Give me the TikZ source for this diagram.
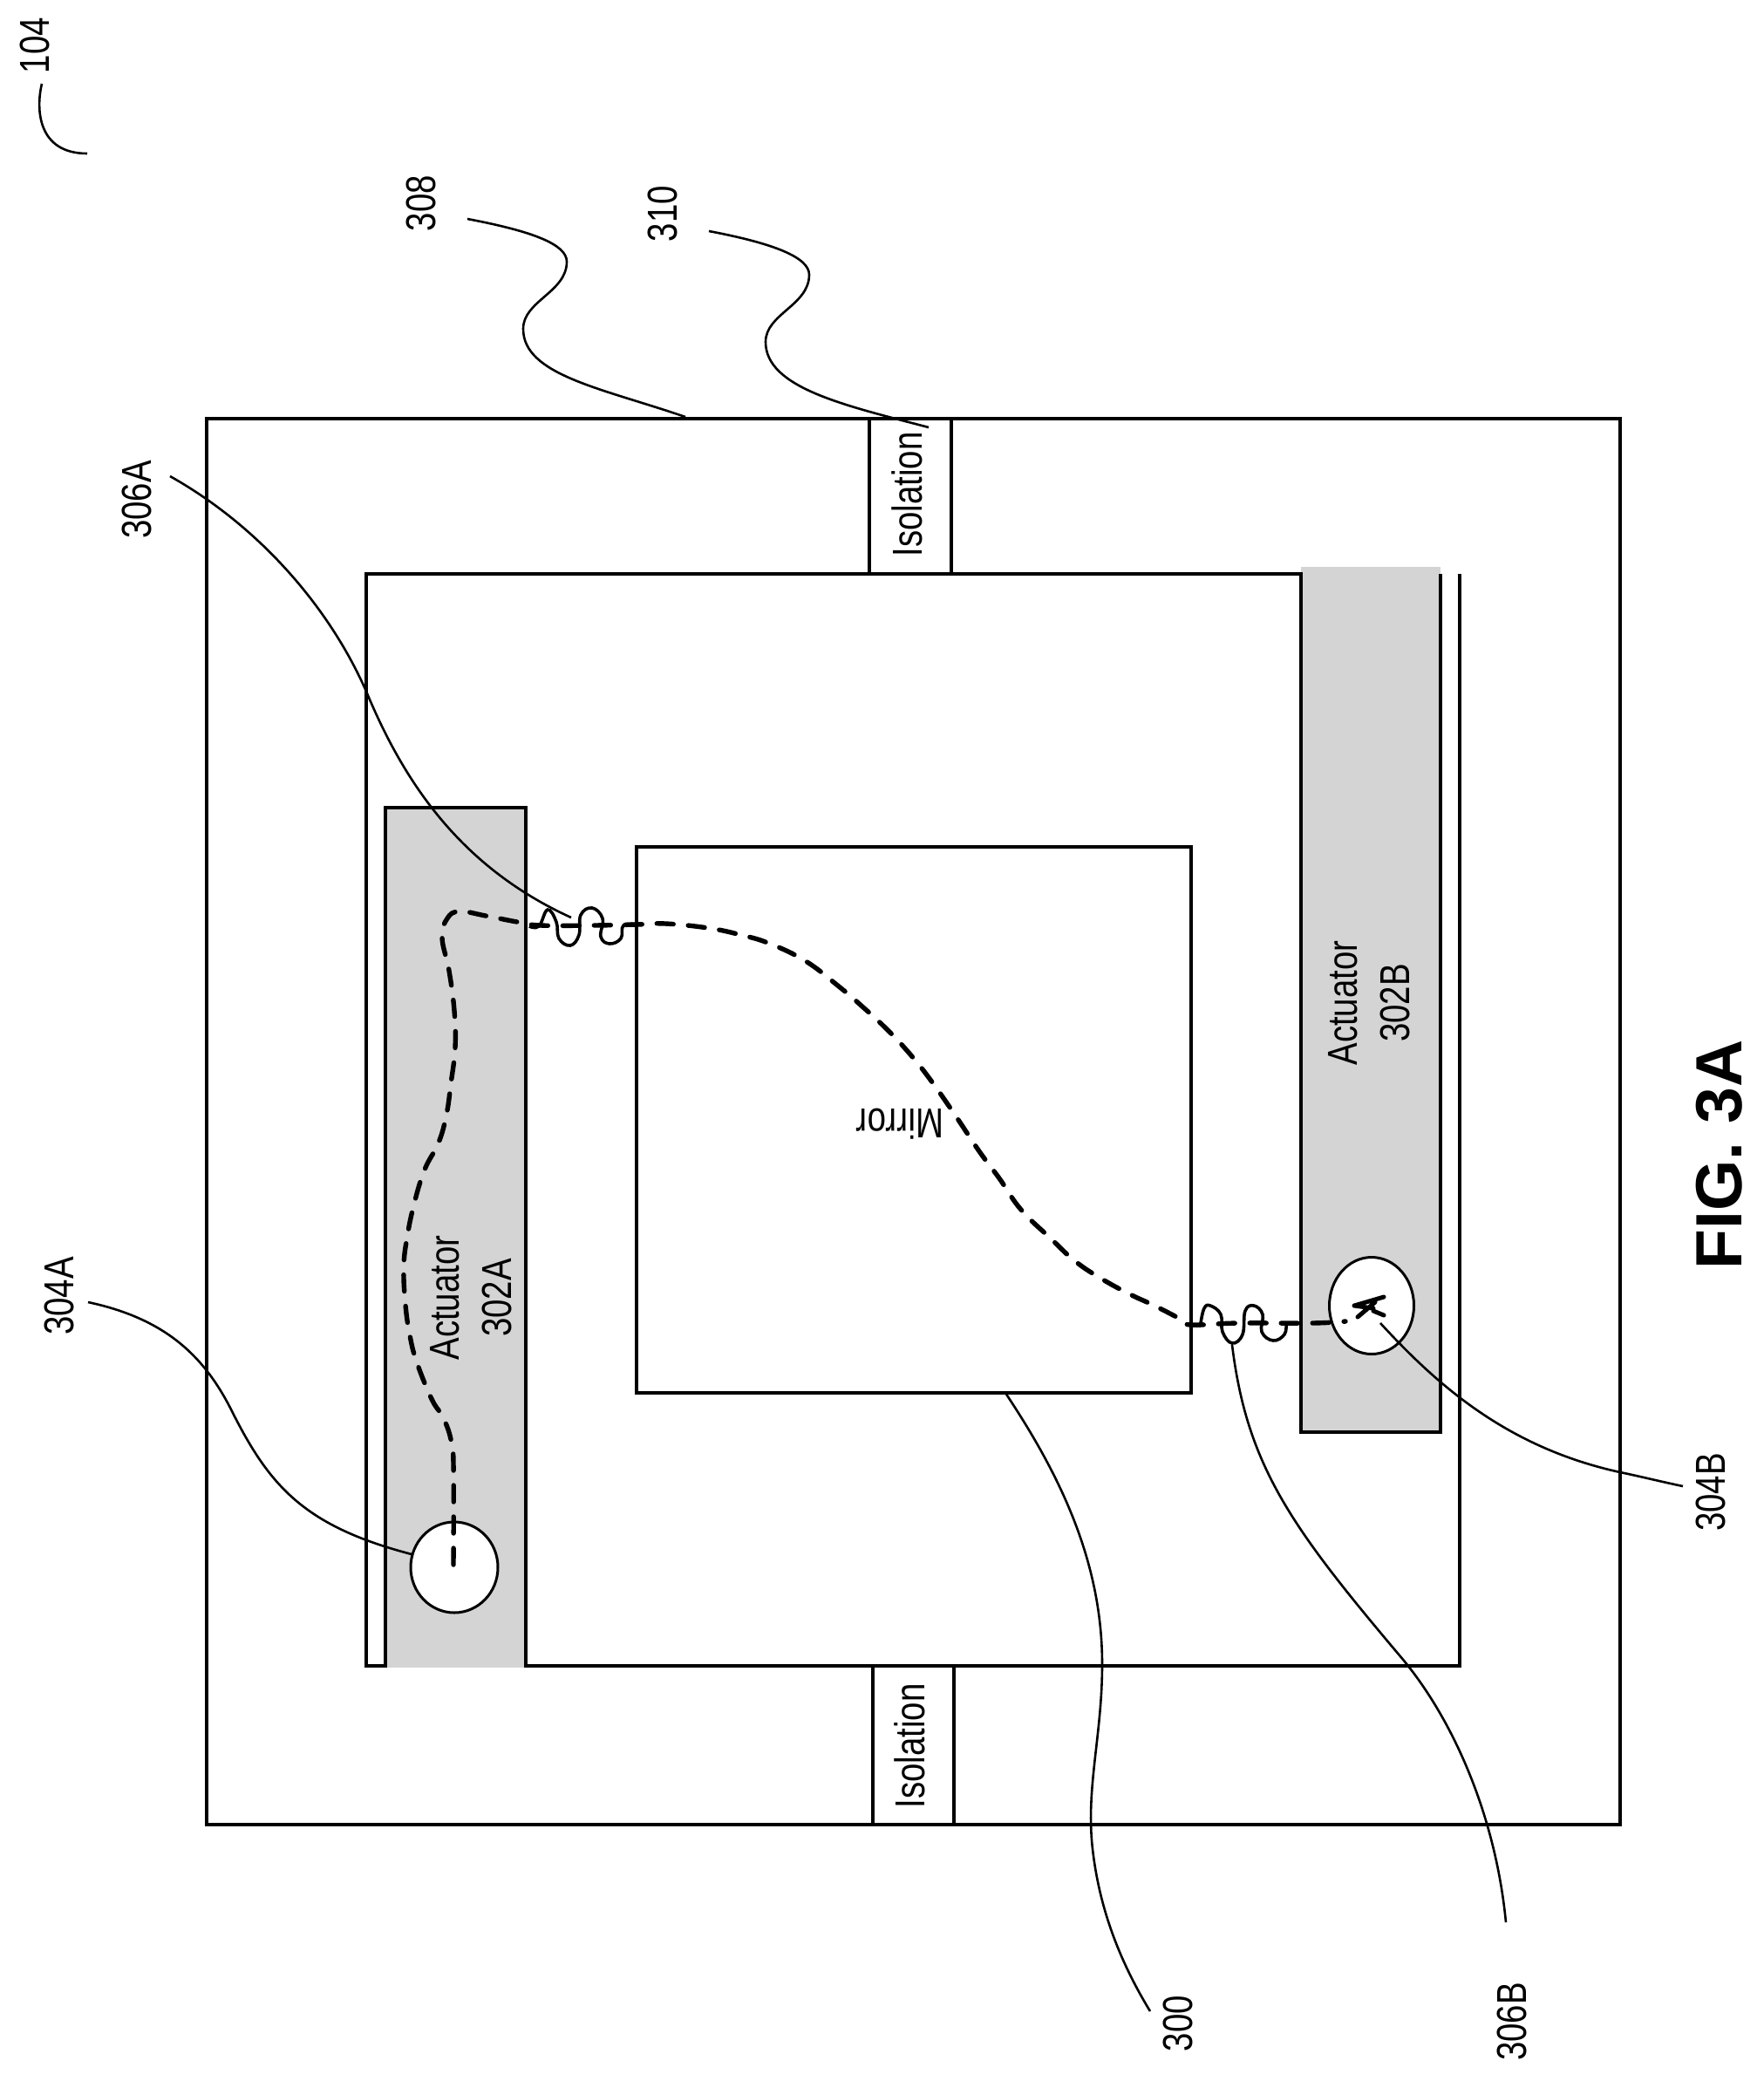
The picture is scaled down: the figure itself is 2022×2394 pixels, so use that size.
\documentclass[tikz,border=0pt]{standalone}
\usepackage{fontspec}
\usetikzlibrary{shapes.geometric}
\setmainfont{Liberation Sans}
\begin{document}
\begin{tikzpicture}[x=1pt,y=-1pt,
  body/.style={line width=3.5pt,black,line join=miter},
  leader/.style={line width=2.6pt,black},
  wire/.style={line width=5.4pt,black,line cap=round,dash pattern=on 19pt off 17pt},
  spring/.style={line width=3.6pt,black},
  actfill/.style={fill=black!17,draw=none},
  txt/.style={inner sep=0pt,font=\fontsize{48}{60}\selectfont,align=center,rotate=90,xscale=.8},
  hole/.style={draw=black,line width=3pt,fill=white}]
\useasboundingbox (0,0) rectangle (2022,2394);
\fill[white] (0,0) rectangle (2022,2394);
% actuators' shading
\fill[actfill] (442,926) rectangle (603,1912);
\fill[actfill] (1492,650) rectangle (1652,1642);
% package and isolation
\draw[body] (237,480) rectangle (1858,2092);
\draw[body] (997,480) rectangle (1091,658);
\draw[body] (1001,1910) rectangle (1094,2092);
% frame
\draw[body] (1652,658) -- (1652,1642) -- (1492,1642) -- (1492,658) -- (420,658) -- (420,1910) -- (442,1910) -- (442,926) -- (603,926) -- (603,1910) -- (1674,1910) -- (1674,658);
% mirror
\draw[body] (730,971) rectangle (1366,1597);
% contacts
\node[hole,ellipse,minimum width=100pt,minimum height=104pt,inner sep=0pt] (c304A) at (521,1797) {};
\node[hole,ellipse,minimum width=97pt,minimum height=111pt,inner sep=0pt] (c304B) at (1573,1497) {};
% trace
\draw[wire] plot[smooth,tension=.7] coordinates {(520,1794) (520,1678) (517,1650) (508,1625) (495,1604) (478,1562) (470,1531) (465,1496) (463,1453) (467,1418) (475,1380) (487,1341) (503,1310) (512,1278) (517,1243) (522,1201) (521,1159) (515,1113) (507,1075) (513,1053) (527,1045) (557,1050) (593,1057) (620,1061) (680,1061) (730,1060) (763,1059) (812,1064) (850,1072) (883,1082) (924,1102) (962,1131) (990,1155) (1018,1181) (1044,1209) (1067,1238) (1095,1278) (1123,1320) (1146,1351) (1171,1387) (1205,1420) (1233,1446) (1263,1466) (1296,1484) (1324,1497) (1355,1513) (1366,1519) (1420,1517) (1505,1517) (1543,1515)};
\draw[line width=5pt,black,line cap=round] (1553,1497) -- (1587,1487) (1553,1497) -- (1575,1500) (1557,1510) -- (1577,1493) (1575,1503) -- (1587,1508);
% springs
\draw[spring] plot[smooth,tension=.7] coordinates {(607,1062) (618,1062) (628,1043) (638,1057) (641,1076) (654,1084) (664,1072) (666,1049) (679,1041) (691,1053) (689,1074) (699,1082) (712,1076) (715,1061) (730,1060)};
\draw[spring] plot[smooth,tension=.7] coordinates {(1377,1517) (1381,1500) (1388,1497) (1400,1507) (1402,1527) (1413,1540) (1425,1530) (1428,1503) (1438,1497) (1448,1507) (1447,1527) (1460,1537) (1473,1530) (1475,1517)};
% texts
\node[txt] (actA) at (540,1488) {Actuator\\302A};
\node[txt] (actB) at (1570,1150) {Actuator\\302B};
\node[txt] (isoT) at (1040,567) {Isolation};
\node[txt] (isoB) at (1043,2002) {Isolation};
\node[inner sep=0pt,font=\fontsize{48}{60}\selectfont,rotate=180,xscale=.8] (mir) at (1032,1289) {Mirror};
\node[txt] (l104) at (40,52) {104};
\node[txt] (l308) at (483,233) {308};
\node[txt] (l310) at (760,245) {310};
\node[txt] (l306A) at (157,573) {306A};
\node[txt] (l304A) at (68,1486) {304A};
\node[txt] (l304B) at (1962,1711) {304B};
\node[txt] (l306B) at (1734,2318) {306B};
\node[txt] (l300) at (1351,2320) {300};
\node[inner sep=0pt,font=\fontsize{75}{90}\selectfont\bfseries,rotate=90] (fig) at (1972,1324) {FIG. 3A};
% leaders
\draw[leader] (48,96) .. controls (41,125) and (43,176) .. (100,176);
\draw[leader] (536,251) .. controls (610,265) and (650,280) .. (650,300) .. controls (650,335) and (600,345) .. (600,377) .. controls (600,430) and (690,445) .. (786,478);
\draw[leader] (813,265) .. controls (887,279) and (928,295) .. (928,315) .. controls (928,350) and (878,360) .. (878,392) .. controls (878,445) and (970,465) .. (1065,490);
\draw[leader] (195,546) .. controls (300,605) and (380,700) .. (421,795) .. controls (465,900) and (530,995) .. (655,1052);
\draw[leader] (101,1493) .. controls (190,1512) and (235,1555) .. (267,1620) .. controls (310,1705) and (350,1750) .. (472,1782);
\draw[leader] (1153,1597) .. controls (1215,1690) and (1264,1790) .. (1264,1908) .. controls (1264,1990) and (1245,2050) .. (1253,2120) .. controls (1261,2190) and (1285,2250) .. (1319,2306);
\draw[leader] (1413,1542) .. controls (1430,1680) and (1480,1750) .. (1605,1898) .. controls (1665,1968) and (1715,2080) .. (1727,2204);
\draw[leader] (1583,1517) .. controls (1650,1590) and (1730,1660) .. (1858,1688) .. controls (1882,1693) and (1906,1699) .. (1930,1704);
\end{tikzpicture}
\end{document}
